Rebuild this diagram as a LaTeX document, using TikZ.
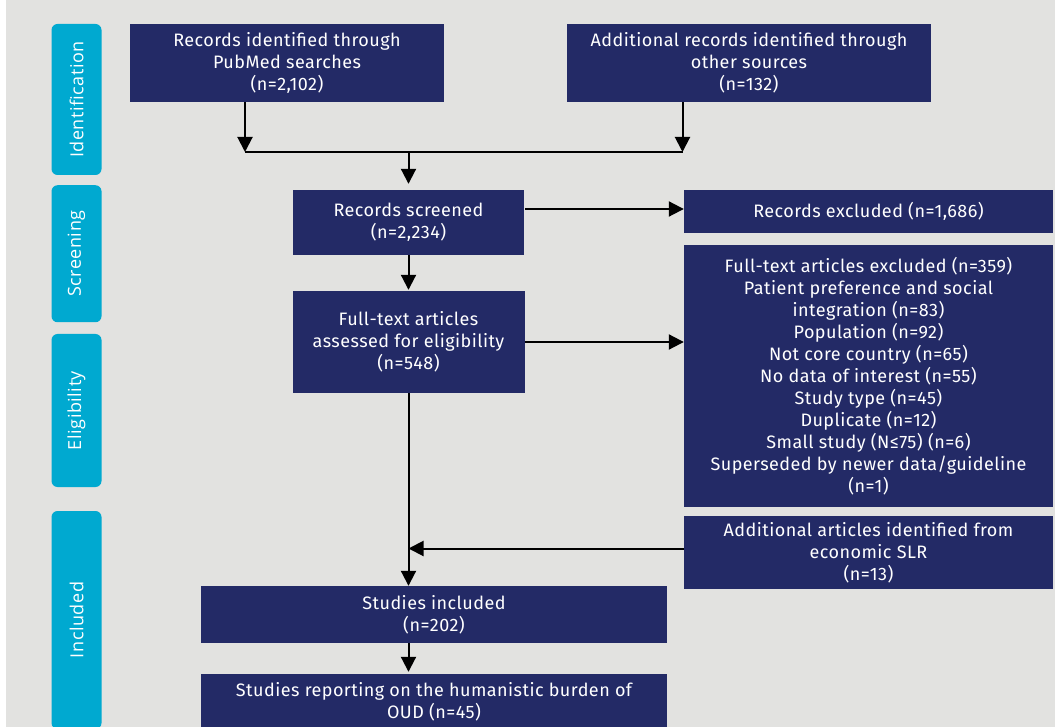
\documentclass[tikz,border=0pt]{standalone}
\usepackage{fontspec}
\setmainfont{Fira Sans}[LetterSpace=2.5]
\newfontfamily\tabfont{Open Sans}[LetterSpace=3]
\usetikzlibrary{arrows.meta, positioning}
\usepackage{xcolor}
\definecolor{navy}{HTML}{232A66}
\definecolor{tabblue}{HTML}{00A9D0}
\definecolor{bggray}{HTML}{E2E2E0}

\tikzset{
  box/.style={fill=navy, text=white, align=center, inner sep=0pt,
    font=\fontsize{18}{22}\selectfont},
  phase/.style={fill=tabblue, text=white, rounded corners=6pt, inner sep=0pt,
    rotate=90, minimum height=50pt, font=\tabfont\fontsize{18}{20}\selectfont},
  arr/.style={-{Triangle[length=15pt,width=15pt]}, line width=2pt},
}

\begin{document}
\begin{tikzpicture}[x=1pt, y=-1pt]
    % Fundo
    \useasboundingbox (0,0) rectangle (1055,727);
    \fill[bggray] (6,0) rectangle (1055,727);
    % Fases
    \node[phase, minimum width=151pt] (tid) at (76.5,99.5) {Identification};
    \node[phase, minimum width=137pt] (tsc) at (76.5,253.75) {Screening};
    \node[phase, minimum width=153pt] (tel) at (76.5,410.5) {Eligibility};
    \node[phase, minimum width=218pt] (tin) at (76.5,620) {Included};
    % Caixas
    \node[box, minimum width=314pt, minimum height=78pt] (pubmed) at (287,63)
        {Records identified through\\PubMed searches\\(n=2,102)};
    \node[box, minimum width=364pt, minimum height=78pt] (other) at (749,63)
        {Additional records identified through\\other sources\\(n=132)};
    \node[box, minimum width=231pt, minimum height=65pt] (screened) at (408.5,222.5)
        {Records screened\\(n=2,234)};
    \node[box, minimum width=369pt, minimum height=43pt] (excluded) at (868.5,211.5)
        {Records excluded (n=1,686)};
    \node[box, minimum width=232pt, minimum height=102pt] (fulltext) at (408.5,342)
        {Full-text articles\\assessed for eligibility\\(n=548)};
    \node[box, minimum width=369pt, minimum height=262pt] (ftexcl) at (868.5,376)
        {Full-text articles excluded (n=359)\\Patient preference and social\\integration (n=83)\\
         Population (n=92)\\Not core country (n=65)\\No data of interest (n=55)\\
         Study type (n=45)\\Duplicate (n=12)\\Small study (N≤75) (n=6)\\
         Superseded by newer data/guideline\\(n=1)};
    \node[box, minimum width=369pt, minimum height=73pt] (econ) at (868.5,552.5)
        {Additional articles identified from\\economic SLR\\(n=13)};
    \node[box, minimum width=466pt, minimum height=57pt] (included) at (434,614.5)
        {Studies included\\(n=202)};
    \node[box, minimum width=466pt, minimum height=56pt] (humanistic) at (434,702)
        {Studies reporting on the humanistic burden of\\OUD (n=45)};
    % Juncao
    \coordinate (j1) at (245,152);
    \coordinate (j2) at (682.5,152);
    \coordinate (j3) at (408.5,152);
    \coordinate (r1) at (525,209);
    % Setas
    \draw[arr] (j1 |- pubmed.south) -- (j1);
    \draw[arr] (j2 |- other.south) -- (j2);
    \draw[line width=1.2pt] (j1) -- (j2);
    \draw[arr, shorten >=6pt] (j3) -- (j3 |- screened.north);
    \draw[arr] (r1) -- (r1 -| excluded.west);
    \draw[arr, shorten >=1pt] (screened.south) -- (fulltext.north);
    \draw[arr] (fulltext.east) -- (fulltext.east -| ftexcl.west);
    \draw[arr] (fulltext.south) -- (fulltext.south |- included.north);
    \draw[arr] ([yshift=4pt]econ.west) -- ([yshift=4pt]econ.west -| fulltext.south);
    \draw[arr, shorten >=2pt] (included.south -| fulltext.south) -- (humanistic.north -| fulltext.south);
\end{tikzpicture}
\end{document}
